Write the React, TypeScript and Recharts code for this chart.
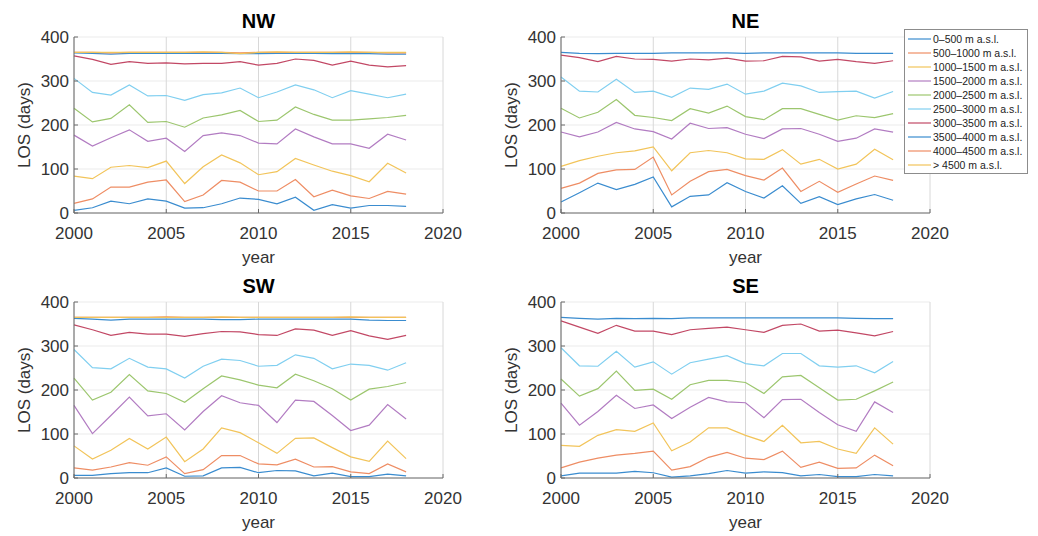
import React from 'react';
import { LineChart, Line, XAxis, YAxis, CartesianGrid, Legend } from 'recharts';

const years = [2000, 2001, 2002, 2003, 2004, 2005, 2006, 2007, 2008, 2009, 2010, 2011, 2012, 2013, 2014, 2015, 2016, 2017, 2018];
const xTicks = [2000, 2005, 2010, 2015, 2020];
const yTicks = [0, 100, 200, 300, 400];
const bandNames = [
  '0–500 m a.s.l.',
  '500–1000 m a.s.l.',
  '1000–1500 m a.s.l.',
  '1500–2000 m a.s.l.',
  '2000–2500 m a.s.l.',
  '2500–3000 m a.s.l.',
  '3000–3500 m a.s.l.',
  '3500–4000 m a.s.l.',
  '4000–4500 m a.s.l.',
  '> 4500 m a.s.l.',
];
const bandColors = ['#3a8ccf', '#ee8d64', '#f2c45a', '#b27cc2', '#9cc66e', '#80cff0', '#c24865', '#3a8ccf', '#ee8d64', '#f2c45a'];

// NW
const nw_0_500 = [6, 12, 27, 21, 32, 27, 11, 12, 21, 34, 31, 21, 36, 6, 19, 11, 17, 17, 15];
const nw_500_1000 = [22, 32, 59, 59, 70, 75, 26, 41, 74, 70, 50, 50, 76, 37, 52, 39, 33, 49, 43];
const nw_1000_1500 = [84, 78, 104, 108, 103, 118, 67, 105, 132, 114, 87, 94, 124, 109, 95, 85, 71, 113, 91];
const nw_1500_2000 = [177, 152, 171, 189, 163, 170, 140, 176, 182, 176, 159, 157, 191, 173, 157, 157, 147, 179, 166];
const nw_2000_2500 = [238, 207, 215, 246, 206, 208, 195, 216, 223, 233, 208, 211, 241, 224, 211, 211, 214, 217, 222];
const nw_2500_3000 = [306, 274, 268, 291, 266, 267, 256, 269, 273, 284, 262, 275, 291, 280, 262, 278, 270, 262, 270];
const nw_3000_3500 = [357, 349, 338, 344, 340, 341, 339, 340, 340, 344, 336, 340, 350, 347, 336, 345, 336, 332, 335];
const nw_3500_4000 = [364, 363, 361, 363, 363, 363, 363, 363, 363, 362, 362, 363, 363, 363, 362, 363, 362, 361, 361];
const nw_4000_4500 = [365, 365, 364, 365, 365, 365, 365, 365, 365, 364, 365, 365, 365, 365, 365, 365, 365, 364, 364];
const nw_above_4500 = [365, 365, 365, 365, 365, 365, 365, 366, 365, 362, 365, 366, 365, 365, 365, 366, 365, 365, 365];

// NE
const ne_0_500 = [25, 46, 68, 53, 65, 82, 14, 38, 41, 69, 49, 34, 62, 22, 37, 19, 32, 42, 29];
const ne_500_1000 = [56, 68, 90, 98, 99, 127, 41, 72, 94, 99, 85, 75, 102, 49, 72, 47, 66, 84, 74];
const ne_1000_1500 = [106, 119, 129, 137, 141, 150, 96, 137, 142, 137, 123, 122, 144, 111, 122, 100, 111, 145, 121];
const ne_1500_2000 = [184, 173, 184, 206, 191, 185, 168, 204, 192, 194, 179, 169, 191, 192, 179, 163, 170, 191, 184];
const ne_2000_2500 = [238, 216, 229, 258, 222, 217, 210, 237, 227, 243, 219, 212, 237, 237, 224, 211, 221, 217, 226];
const ne_2500_3000 = [309, 277, 275, 304, 274, 277, 263, 284, 281, 293, 270, 277, 295, 289, 274, 276, 277, 261, 276];
const ne_3000_3500 = [359, 353, 344, 356, 350, 349, 345, 350, 348, 352, 345, 346, 356, 355, 345, 349, 344, 340, 346];
const ne_3500_4000 = [365, 363, 362, 363, 363, 363, 364, 364, 364, 364, 363, 364, 364, 364, 364, 364, 363, 363, 363];

// SW
const sw_0_500 = [6, 6, 10, 12, 12, 23, 4, 5, 23, 24, 12, 17, 16, 5, 11, 3, 3, 9, 5];
const sw_500_1000 = [23, 18, 25, 35, 29, 48, 10, 19, 51, 51, 32, 30, 43, 25, 26, 14, 10, 32, 14];
const sw_1000_1500 = [73, 43, 63, 90, 66, 93, 37, 66, 114, 103, 80, 56, 90, 91, 69, 48, 38, 84, 44];
const sw_1500_2000 = [165, 101, 142, 184, 141, 146, 109, 151, 187, 171, 165, 126, 177, 174, 142, 108, 120, 167, 134];
const sw_2000_2500 = [227, 177, 195, 235, 198, 192, 172, 203, 232, 223, 211, 205, 236, 221, 203, 177, 202, 208, 217];
const sw_2500_3000 = [292, 251, 248, 272, 252, 248, 227, 254, 270, 267, 254, 256, 280, 272, 248, 259, 256, 245, 262];
const sw_3000_3500 = [348, 337, 324, 331, 327, 327, 322, 328, 333, 332, 326, 324, 339, 336, 324, 335, 323, 315, 324];
const sw_3500_4000 = [363, 361, 359, 361, 361, 361, 361, 361, 360, 360, 361, 361, 361, 361, 361, 361, 359, 358, 358];
const sw_4000_4500 = [365, 365, 365, 365, 365, 366, 365, 365, 365, 365, 365, 365, 365, 365, 365, 365, 365, 365, 365];
const sw_above_4500 = [365, 365, 365, 365, 365, 365, 365, 365, 366, 365, 365, 365, 365, 365, 365, 366, 365, 365, 365];

// SE
const se_0_500 = [5, 11, 11, 11, 15, 12, 2, 5, 10, 17, 11, 14, 12, 5, 8, 3, 3, 8, 5];
const se_500_1000 = [23, 36, 45, 52, 56, 61, 18, 26, 47, 58, 45, 42, 61, 24, 36, 22, 23, 52, 28];
const se_1000_1500 = [74, 72, 97, 110, 106, 125, 62, 82, 114, 114, 97, 83, 120, 80, 83, 66, 56, 114, 77];
const se_1500_2000 = [170, 120, 151, 188, 158, 166, 135, 161, 183, 173, 171, 137, 178, 179, 149, 121, 106, 173, 149];
const se_2000_2500 = [225, 186, 203, 243, 199, 202, 179, 212, 222, 222, 217, 192, 230, 233, 205, 177, 179, 198, 218];
const se_2500_3000 = [296, 255, 254, 288, 252, 264, 236, 262, 270, 278, 260, 255, 283, 283, 255, 252, 255, 239, 265];
const se_3000_3500 = [357, 343, 329, 347, 334, 334, 326, 337, 340, 343, 337, 331, 347, 350, 334, 336, 330, 323, 333];
const se_3500_4000 = [365, 363, 361, 363, 362, 363, 362, 364, 364, 364, 364, 364, 364, 364, 364, 364, 363, 362, 362];

const FONT = "'Liberation Sans', Arial, Helvetica, sans-serif";
const AX = '#6a6a6a';
const TXT = '#333333';
const PLOT_W = 369;

type Series = (number[] | null)[];

const LegendBox = (props: any) => {
  const items = [...(props.payload || [])].sort(
    (a: any, b: any) => bandNames.indexOf(a.value) - bandNames.indexOf(b.value)
  );
  return (
    <div
      style={{
        border: '1px solid #8c8c8c',
        background: '#fff',
        padding: '2px 0 1px 0',
        width: 124,
        boxSizing: 'border-box',
        fontFamily: FONT,
      }}
    >
      {items.map((it: any) => (
        <div key={it.value} style={{ display: 'flex', alignItems: 'center', height: 14 }}>
          <svg width={27} height={14} style={{ display: 'block' }}>
            <line x1={3} y1={7} x2={26} y2={7} stroke={it.color} strokeWidth={1.2} />
          </svg>
          <span style={{ fontSize: 10.5, color: '#222', marginLeft: 1, whiteSpace: 'nowrap', lineHeight: '14px' }}>
            {it.value}
          </span>
        </div>
      ))}
    </div>
  );
};

const yearLabel = (p: any) => {
  const vb = p.viewBox || {};
  return (
    <text x={vb.x + vb.width / 2} y={vb.y + 50} textAnchor="middle" fontSize={17} fill={TXT} fontFamily={FONT}>
      year
    </text>
  );
};

const makeYLabel = (title: string) => (p: any) => {
  const vb = p.viewBox || {};
  const x = vb.x + 30;
  const y = vb.y + vb.height / 2;
  const plotLeft = vb.x + vb.width;
  return (
    <g>
      <text x={x} y={y} transform={`rotate(-90 ${x} ${y})`} textAnchor="middle" fontSize={17} fill={TXT} fontFamily={FONT}>
        LOS (days)
      </text>
      <text x={plotLeft + PLOT_W / 2} y={vb.y - 9} textAnchor="middle" fontSize={20} fontWeight="bold" fill="#000" fontFamily={FONT}>
        {title}
      </text>
    </g>
  );
};

function Panel(props: {
  title: string;
  series: Series;
  left: number;
  top: number;
  width: number;
  height: number;
  mr: number;
  mb: number;
  showLegend?: boolean;
}) {
  const { title, series, left, top, width, height, mr, mb, showLegend } = props;
  const rows = years.map((y, i) => {
    const r: any = { year: y };
    series.forEach((s, k) => {
      if (s) r['s' + k] = s[i];
    });
    return r;
  });
  const tickStyle = { fontSize: 17, fill: TXT, fontFamily: FONT };
  return (
    <div style={{ position: 'absolute', left, top }}>
      <LineChart width={width} height={height} data={rows} margin={{ top: 37, right: mr, bottom: mb, left: 0 }}>
        <CartesianGrid vertical={false} stroke="#ebebeb" />
        <CartesianGrid horizontal={false} stroke="#d8d8d8" />
        <XAxis
          dataKey="year"
          type="number"
          domain={[2000, 2020]}
          ticks={xTicks}
          interval={0}
          height={50}
          tickSize={-4}
          tickMargin={18}
          axisLine={{ stroke: AX }}
          tickLine={{ stroke: AX }}
          tick={tickStyle}
          label={yearLabel}
        />
        <XAxis
          xAxisId="t"
          orientation="top"
          type="number"
          domain={[2000, 2020]}
          ticks={xTicks}
          interval={0}
          height={0}
          tick={false}
          tickSize={-4}
          axisLine={{ stroke: AX }}
          tickLine={{ stroke: AX }}
        />
        <YAxis
          width={74}
          type="number"
          domain={[0, 400]}
          ticks={yTicks}
          interval={0}
          tickSize={-4}
          tickMargin={9}
          axisLine={{ stroke: AX }}
          tickLine={{ stroke: AX }}
          tick={tickStyle}
          label={makeYLabel(title)}
        />
        <YAxis
          yAxisId="r"
          orientation="right"
          width={0}
          type="number"
          domain={[0, 400]}
          ticks={yTicks}
          interval={0}
          tick={false}
          tickSize={-4}
          axisLine={{ stroke: AX }}
          tickLine={{ stroke: AX }}
        />
        {series.map((s, k) => (
          <Line
            key={k}
            type="linear"
            dataKey={'s' + k}
            name={bandNames[k]}
            stroke={bandColors[k]}
            strokeWidth={1.2}
            dot={false}
            activeDot={false}
            isAnimationActive={false}
          />
        ))}
        {showLegend && (
          <Legend
            layout="vertical"
            align="center"
            verticalAlign="middle"
            content={LegendBox}
            wrapperStyle={{ left: 417, top: 29, width: 124 }}
          />
        )}
      </LineChart>
    </div>
  );
}

const nwSeries: Series = [nw_0_500, nw_500_1000, nw_1000_1500, nw_1500_2000, nw_2000_2500, nw_2500_3000, nw_3000_3500, nw_3500_4000, nw_4000_4500, nw_above_4500];
const neSeries: Series = [ne_0_500, ne_500_1000, ne_1000_1500, ne_1500_2000, ne_2000_2500, ne_2500_3000, ne_3000_3500, ne_3500_4000, null, null];
const swSeries: Series = [sw_0_500, sw_500_1000, sw_1000_1500, sw_1500_2000, sw_2000_2500, sw_2500_3000, sw_3000_3500, sw_3500_4000, sw_4000_4500, sw_above_4500];
const seSeries: Series = [se_0_500, se_500_1000, se_1000_1500, se_1500_2000, se_2000_2500, se_2500_3000, se_3000_3500, se_3500_4000, null, null];

export default function App() {
  return (
    <div style={{ position: 'absolute', left: 0, top: 0, width: 1038, height: 536, background: '#fff', fontFamily: FONT, overflow: 'hidden' }}>
      <Panel title="NW" series={nwSeries} left={0} top={0} width={480} height={275} mr={37} mb={12} />
      <Panel title="NE" series={neSeries} left={487} top={0} width={551} height={275} mr={108} mb={12} showLegend />
      <Panel title="SW" series={swSeries} left={0} top={265} width={480} height={271} mr={37} mb={8} />
      <Panel title="SE" series={seSeries} left={487} top={265} width={551} height={271} mr={108} mb={8} />
    </div>
  );
}
